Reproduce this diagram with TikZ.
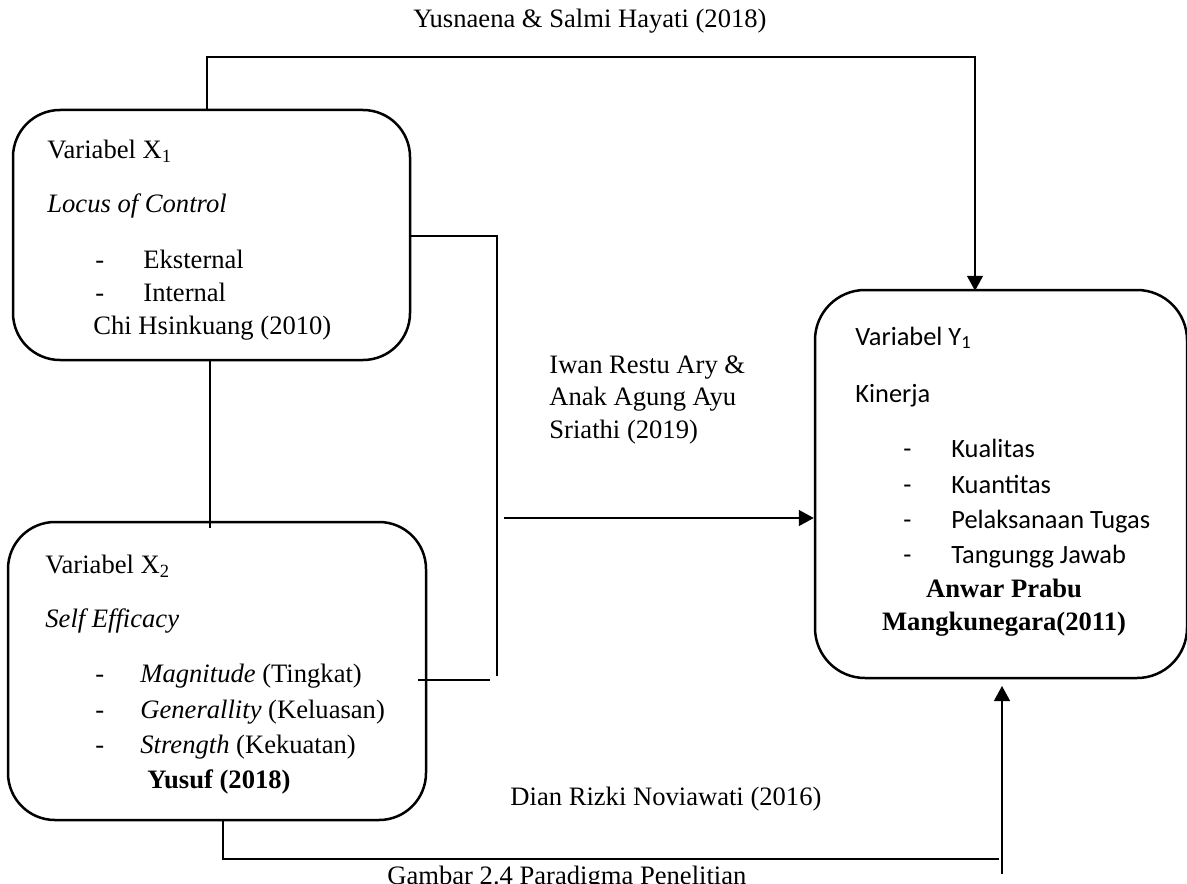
\documentclass[tikz,border=0pt]{standalone}
\usepackage{fontspec}
\setmainfont{Liberation Serif}
\newfontfamily\calfont{Carlito}
\usetikzlibrary{arrows.meta}
\begin{document}
\begin{tikzpicture}[x=0.5pt,y=-0.5pt,
  box/.style={draw,line width=1.25pt,rounded corners=23.5pt,inner sep=0pt},
  conn/.style={draw,line width=0.7pt},
  arr/.style={conn,-{Triangle[width=8pt,length=7.5pt]}},
  txt/.style={inner sep=0pt,anchor=base west,font=\fontsize{13.3}{15}\selectfont},
  ctxt/.style={inner sep=0pt,anchor=base,font=\fontsize{13.3}{15}\selectfont\bfseries},
  ytxt/.style={inner sep=0pt,anchor=base west,font=\fontsize{13.2}{15}\selectfont\calfont}]
\useasboundingbox (0,0) rectangle (1187,883);
\clip (0,0) rectangle (1187,883);
% boxes
\node[box,minimum width=198.5pt,minimum height=125pt] (x1) at (211.5,235) {};
\node[box,minimum width=209pt,minimum height=149pt] (x2) at (217,671) {};
\node[box,rounded corners=25pt,minimum width=186pt,minimum height=194pt] (y1) at (1001,484) {};
% X1 texts
\node[txt] (x1a) at (47,158) {Variabel X\textsubscript{1}};
\node[txt] (x1b) at (47,212) {\itshape Locus of Control};
\node[txt] (x1c) at (95,268) {-};
\node[txt] (x1d) at (143,268) {Eksternal};
\node[txt] (x1e) at (95,301) {-};
\node[txt] (x1f) at (143,301) {Internal};
\node[txt] (x1g) at (93,334) {Chi Hsinkuang (2010)};
% X2 texts
\node[txt] (x2a) at (45,573) {Variabel X\textsubscript{2}};
\node[txt] (x2b) at (45,627) {\itshape Self Efficacy};
\node[txt] (x2c) at (95,682) {-};
\node[txt] (x2d) at (140,682) {\textit{Magnitude} (Tingkat)};
\node[txt] (x2e) at (95,718) {-};
\node[txt] (x2f) at (140,718) {\textit{Generallity} (Keluasan)};
\node[txt] (x2g) at (95,753) {-};
\node[txt] (x2h) at (140,753) {\textit{Strength} (Kekuatan)};
\node[txt] (x2i) at (147,788) {\bfseries Yusuf (2018)};
% Y texts
\node[ytxt] (ya) at (855,345) {Variabel Y\textsubscript{1}};
\node[ytxt] (yb) at (855,402) {Kinerja};
\node[ytxt] (yc) at (903,457) {-};
\node[ytxt] (yd) at (951,457) {Kualitas};
\node[ytxt] (ye) at (903,493) {-};
\node[ytxt] (yf) at (951,493) {Kuantitas};
\node[ytxt] (yg) at (903,528) {-};
\node[ytxt] (yh) at (951,528) {Pelaksanaan Tugas};
\node[ytxt] (yi) at (903,563) {-};
\node[ytxt] (yj) at (951,563) {Tangungg Jawab};
\node[ctxt] (yk) at (1004,597) {Anwar Prabu};
\node[ctxt] (yl) at (1004,630) {Mangkunegara(2011)};
% labels
\node[txt] (l1) at (413,28) {Yusnaena \& Salmi Hayati (2018)};
\node[txt] (l2) at (549,373) {Iwan Restu Ary \&};
\node[txt] (l3) at (549,405) {Anak Agung Ayu};
\node[txt] (l4) at (549,438) {Sriathi (2019)};
\node[txt] (l5) at (510,805) {Dian Rizki Noviawati (2016)};
\node[txt] (l6) at (387,884) {Gambar 2.4 Paradigma Penelitian};
% coordinates
\coordinate (c1) at (207,57);
\coordinate (c2) at (975,57);
\coordinate (c3) at (497,236);
\coordinate (c4) at (497,676);
\coordinate (c5a) at (418,680);
\coordinate (c5) at (490,680);
\coordinate (c6) at (504,518);
\coordinate (c7) at (210,528);
\coordinate (c8) at (223,859);
\coordinate (c9) at (999,859);
\coordinate (c10) at (1002,874);
\coordinate (c11) at (1002,686);
% connectors
\draw[arr] (x1.north -| c1) -- (c1) -- (c2) -- ([yshift=-1pt]y1.north -| c2);
\draw[conn] (x1.east |- c3) -- (c3) -- (c4);
\draw[conn] (c5a) -- (c5);
\draw[arr] (c6) -- (y1.west |- c6);
\draw[conn] (x1.south -| c7) -- (c7);
\draw[conn] (x2.south -| c8) -- (c8) -- (c9);
\draw[arr] (c10) -- (c11);
\end{tikzpicture}
\end{document}
